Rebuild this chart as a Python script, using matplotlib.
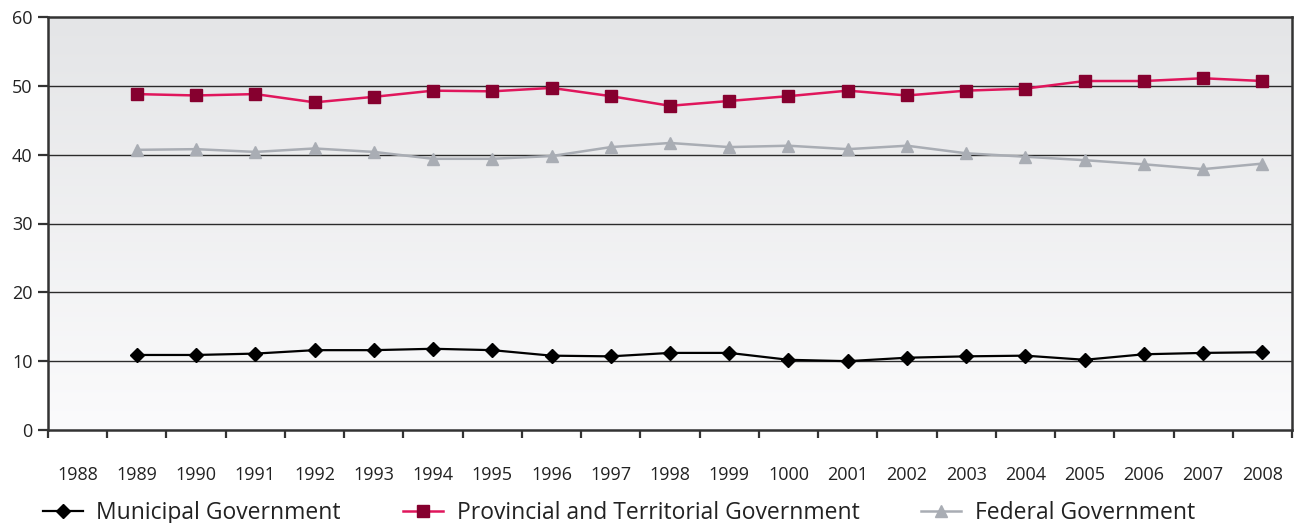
import numpy as np
import matplotlib.pyplot as plt
from matplotlib.ticker import FixedLocator

plt.rcParams['font.family'] = ['Open Sans', 'DejaVu Sans']

years = ['1988', '1989', '1990', '1991', '1992', '1993', '1994', '1995', '1996', '1997',
         '1998', '1999', '1000', '2001', '2002', '2003', '2004', '2005', '2006', '2007', '2008']

# no value for 1988
municipal = [np.nan, 10.9, 10.9, 11.1, 11.6, 11.6, 11.8, 11.6, 10.8, 10.7,
             11.2, 11.2, 10.2, 10.0, 10.5, 10.7, 10.8, 10.2, 11.0, 11.2, 11.3]
provincial = [np.nan, 48.8, 48.6, 48.8, 47.6, 48.4, 49.3, 49.2, 49.7, 48.5,
              47.1, 47.8, 48.5, 49.3, 48.6, 49.3, 49.6, 50.7, 50.7, 51.1, 50.7]
federal = [np.nan, 40.7, 40.8, 40.4, 40.9, 40.4, 39.4, 39.4, 39.8, 41.1,
           41.7, 41.1, 41.3, 40.8, 41.3, 40.2, 39.7, 39.2, 38.6, 37.9, 38.7]

x = np.arange(len(years))

fig = plt.figure(figsize=(12.97, 5.23), dpi=100)
ax = fig.add_axes([48 / 1297, 1 - 430 / 523, (1292 - 48) / 1297, (430 - 17) / 523])

# soft grey-to-white background gradient
grad = np.linspace(0, 1, 256).reshape(-1, 1)
ax.imshow(grad, extent=[0, 1, 0, 1], transform=ax.transAxes, aspect='auto',
          cmap=plt.matplotlib.colors.LinearSegmentedColormap.from_list('bg', ['#fbfbfc', '#e4e5e7']),
          origin='lower', zorder=0)

for v in range(10, 60, 10):
    ax.axhline(v, color='#2b2b2b', lw=1.0, zorder=1)

ax.plot(x, municipal, color='black', lw=1.6, marker='D', ms=7.5, mfc='black', mec='black',
        label='Municipal Government', zorder=3)
ax.plot(x, provincial, color='#e0165c', lw=1.8, marker='s', ms=8, mfc='#86002f', mec='#86002f',
        label='Provincial and Territorial Government', zorder=3)
ax.plot(x, federal, color='#a9adb4', lw=1.8, marker='^', ms=9, mfc='#a9adb4', mec='#a9adb4',
        label='Federal Government', zorder=3)

ax.set_xlim(-0.5, len(years) - 0.5)
ax.set_ylim(0, 60)
ax.set_yticks(range(0, 61, 10))
ax.xaxis.set_major_locator(FixedLocator(np.arange(-0.5, len(years), 1.0)))
ax.xaxis.set_major_formatter(plt.NullFormatter())
ax.xaxis.set_minor_locator(FixedLocator(x))
ax.set_xticklabels(years, minor=True)
ax.tick_params(axis='x', which='major', direction='out', length=6, width=1.6, color='#333333')
ax.tick_params(axis='x', which='minor', length=0, pad=26, labelsize=13, labelcolor='#222222')
ax.tick_params(axis='y', direction='out', length=7, width=1.6, color='#333333',
               labelsize=13, labelcolor='#222222', pad=4)

for s in ax.spines.values():
    s.set_color('#333333')
    s.set_linewidth(1.8)

fig.legend(loc='lower left', bbox_to_anchor=(22 / 1297, -0.043), ncol=3, frameon=False,
           fontsize=16.5, handlelength=1.75, columnspacing=2.7, handletextpad=0.6,
           labelcolor='#222222')

fig.savefig('out.png', dpi=100)
